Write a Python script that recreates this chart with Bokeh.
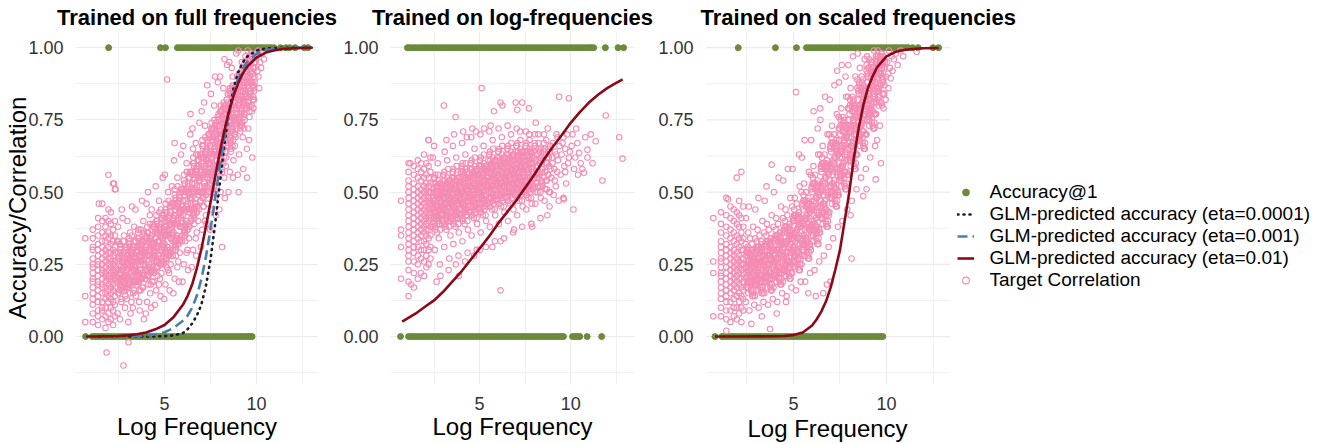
from bokeh.plotting import figure
from bokeh.models import Range1d, FixedTicker, Legend, LegendItem, NumeralTickFormatter, Title
from bokeh.layouts import row
from bokeh.embed import file_html
from bokeh.resources import INLINE

FONT = "Liberation Sans"
PINK = "#F48BB3"
GREEN = "#6B8A3A"
RED = "#8B0A1A"
BLUE = "#4A7FB0"
DOTC = "#1C1C2E"

titles = ["Trained on full frequencies", "Trained on log-frequencies", "Trained on scaled frequencies"]
x_label = "Log Frequency"
y_label = "Accuracy/Correlation"
x_ticks = [5, 10]
x_minor = [2.5, 7.5, 12.5]
y_ticks = [0, 0.25, 0.5, 0.75, 1.0]
y_minor = [-0.125, 0.125, 0.375, 0.625, 0.875]
legend_labels = ["Accuracy@1", "GLM-predicted accuracy (eta=0.0001)", "GLM-predicted accuracy (eta=0.001)",
                 "GLM-predicted accuracy (eta=0.01)", "Target Correlation"]

# ---------------- Accuracy@1 (0/1 outcomes) ----------------
acc_full_one = [1.96, 4.78, 5.05, 5.7, 5.84, 5.99, 6.13, 6.28, 6.44, 6.58, 6.73, 6.89, 7.03, 7.18, 7.34, 7.48,
                7.63, 7.79, 7.93, 8.08, 8.24, 8.38, 8.53, 8.69, 8.83, 8.98, 9.14, 9.28, 9.43, 9.59, 9.73, 9.88,
                10.04, 10.18, 10.33, 10.49, 10.63, 10.78, 10.95, 11.3, 11.6, 11.8, 12.1, 12.6, 12.8]
acc_full_zero = [0.71, 1.07, 1.21, 1.36, 1.5, 1.65, 1.8, 1.95, 2.1, 2.25, 2.4, 2.55, 2.7, 2.85, 3.0, 3.15, 3.3,
                 3.45, 3.6, 3.75, 3.9, 4.05, 4.2, 4.35, 4.5, 4.65, 4.8, 4.95, 5.1, 5.25, 5.4, 5.55, 5.7, 5.85,
                 6.0, 6.15, 6.3, 6.45, 6.6, 6.75, 6.9, 7.05, 7.2, 7.35, 7.5, 7.65, 7.8, 7.95, 8.1, 8.25, 8.4,
                 8.55, 8.7, 8.85, 9.0, 9.15, 9.3, 9.45, 9.58, 9.67, 9.76]
acc_log_one = [1.04, 1.15, 1.3, 1.45, 1.6, 1.75, 1.9, 2.02, 2.16, 2.3, 2.45, 2.6, 2.75, 2.9, 3.05, 3.2, 3.35,
               3.5, 3.65, 3.8, 3.95, 4.1, 4.25, 4.4, 4.55, 4.7, 4.85, 5.0, 5.15, 5.3, 5.45, 5.6, 5.75, 5.9,
               6.05, 6.2, 6.35, 6.5, 6.65, 6.8, 6.95, 7.1, 7.25, 7.4, 7.55, 7.7, 7.85, 8.0, 8.15, 8.3, 8.45,
               8.6, 8.75, 8.9, 9.05, 9.2, 9.35, 9.5, 9.65, 9.8, 9.95, 10.1, 10.25, 10.4, 10.55, 10.7, 10.85,
               11.0, 11.12, 11.26, 11.9, 12.6, 12.9]
acc_log_zero = [0.66, 1.1, 1.24, 1.39, 1.54, 1.69, 1.84, 1.99, 2.14, 2.29, 2.44, 2.59, 2.74, 2.89, 3.04, 3.19,
                3.34, 3.49, 3.64, 3.79, 3.94, 4.09, 4.24, 4.39, 4.54, 4.69, 4.84, 4.99, 5.14, 5.29, 5.44, 5.59,
                5.74, 5.89, 6.04, 6.19, 6.34, 6.49, 6.64, 6.79, 6.94, 7.09, 7.24, 7.39, 7.54, 7.69, 7.84, 7.99,
                8.14, 8.29, 8.44, 8.59, 8.74, 8.89, 9.04, 9.19, 9.34, 9.49, 9.6, 10.1, 10.25, 10.4, 10.5, 10.9,
                11.7]
acc_scaled_one = [2.03, 4.03, 5.16, 5.7, 5.85, 6.0, 6.14, 6.29, 6.44, 6.59, 6.74, 6.88, 7.03, 7.18, 7.33, 7.48,
                  7.62, 7.77, 7.92, 8.07, 8.22, 8.36, 8.51, 8.66, 8.81, 8.96, 9.1, 9.25, 9.4, 9.55, 9.7, 9.84,
                  9.99, 10.14, 10.29, 10.44, 10.58, 10.73, 10.88, 11.02, 11.16, 11.4, 11.7, 12.5, 12.8]
acc_scaled_zero = [0.78, 1.16, 1.3, 1.45, 1.6, 1.75, 1.9, 2.05, 2.2, 2.35, 2.5, 2.65, 2.8, 2.95, 3.1, 3.25,
                   3.4, 3.55, 3.7, 3.85, 4.0, 4.15, 4.3, 4.45, 4.6, 4.75, 4.9, 5.05, 5.2, 5.35, 5.5, 5.65, 5.8,
                   5.95, 6.1, 6.25, 6.4, 6.55, 6.7, 6.85, 7.0, 7.15, 7.3, 7.45, 7.6, 7.75, 7.9, 8.05, 8.2, 8.35,
                   8.5, 8.65, 8.8, 8.95, 9.1, 9.25, 9.4, 9.55, 9.68, 9.8]

# ---------------- GLM-predicted accuracy curves ----------------
glm_full_x = [0.8, 1.5, 2, 2.5, 3, 3.5, 4, 4.5, 5, 5.5, 6, 6.25, 6.5, 6.75, 7, 7.25, 7.5, 7.75, 8, 8.25, 8.5,
              8.75, 9, 9.25, 9.5, 10, 10.5, 11, 11.5, 12, 12.5, 13]
glm_full_eta0001 = [0, 0, 0, 0, 0, 0, 0.0001, 0.0004, 0.0013, 0.004, 0.012, 0.025, 0.045, 0.072, 0.11, 0.175,
                    0.267, 0.389, 0.528, 0.663, 0.775, 0.858, 0.914, 0.949, 0.97, 0.99, 0.997, 0.999, 1.0, 1.0,
                    1.0, 1.0]
glm_full_eta001 = [0, 0, 0, 0.0002, 0.0005, 0.0012, 0.003, 0.008, 0.015, 0.03, 0.055, 0.072, 0.1, 0.14, 0.198,
                   0.276, 0.372, 0.478, 0.587, 0.688, 0.773, 0.84, 0.891, 0.927, 0.951, 0.979, 0.991, 0.996,
                   0.998, 0.999, 1.0, 1.0]
glm_full_eta01 = [0.0003, 0.0006, 0.001, 0.002, 0.004, 0.008, 0.014, 0.025, 0.04, 0.068, 0.11, 0.14, 0.18, 0.235,
                  0.302, 0.38, 0.465, 0.552, 0.636, 0.713, 0.779, 0.833, 0.877, 0.91, 0.935, 0.966, 0.983, 0.991,
                  0.996, 0.998, 0.999, 0.9995]
glm_log_x = [0.75, 1.5, 2, 2.5, 3, 3.5, 4, 4.5, 5, 5.5, 6, 6.5, 7, 7.5, 8, 8.5, 9, 9.5, 10, 10.5, 11, 11.5, 12,
             12.5, 12.85]
glm_log_eta01 = [0.052, 0.08, 0.103, 0.125, 0.155, 0.19, 0.225, 0.265, 0.305, 0.345, 0.39, 0.43, 0.47, 0.515,
                 0.56, 0.61, 0.655, 0.697, 0.74, 0.777, 0.81, 0.837, 0.86, 0.878, 0.89]
glm_scaled_x = [0.78, 2, 3, 4, 4.5, 5, 5.5, 6, 6.25, 6.5, 6.75, 7, 7.25, 7.5, 7.75, 8, 8.25, 8.5, 8.75, 9, 9.25,
                9.5, 10, 10.5, 11, 11.5, 12, 12.8]
glm_scaled_eta01 = [0, 0, 0.0005, 0.001, 0.002, 0.005, 0.014, 0.038, 0.06, 0.087, 0.122, 0.17, 0.232, 0.3, 0.4,
                    0.5, 0.62, 0.72, 0.8, 0.86, 0.9, 0.933, 0.97, 0.986, 0.993, 0.996, 0.998, 0.999]

# ---------------- Target correlation (pink circles) ----------------
full_strip_x = [0.69, 1.10, 1.39, 1.61, 1.79, 1.95, 2.08, 2.20, 2.30]
full_strip_y = [
    [0.34, 0.14, 0.05],
    [0.05, 0.08, 0.11, 0.13, 0.15, 0.17, 0.19, 0.20, 0.22, 0.24, 0.25, 0.27, 0.30, 0.31, 0.34, 0.37],
    [0.04, 0.07, 0.09, 0.12, 0.14, 0.16, 0.18, 0.19, 0.21, 0.23, 0.25, 0.26, 0.28, 0.30, 0.32, 0.35, 0.38, 0.41],
    [0.06, 0.09, 0.10, 0.12, 0.15, 0.17, 0.18, 0.20, 0.22, 0.23, 0.25, 0.27, 0.29, 0.31, 0.33, 0.36, 0.40, 0.46],
    [0.03, 0.07, 0.10, 0.13, 0.15, 0.17, 0.19, 0.21, 0.22, 0.24, 0.26, 0.28, 0.30, 0.33, 0.35, 0.38, 0.41],
    [0.05, 0.08, 0.12, 0.14, 0.16, 0.18, 0.20, 0.21, 0.23, 0.25, 0.27, 0.29, 0.31, 0.34, 0.36, 0.40, 0.44, 0.56],
    [0.06, 0.10, 0.13, 0.15, 0.17, 0.19, 0.20, 0.22, 0.24, 0.26, 0.27, 0.29, 0.32, 0.35, 0.39, 0.43],
    [0.04, 0.09, 0.12, 0.16, 0.18, 0.21, 0.23, 0.25, 0.28, 0.30, 0.33, 0.37, 0.53],
    [0.07, 0.11, 0.14, 0.17, 0.20, 0.22, 0.24, 0.26, 0.29, 0.31, 0.35, 0.40, 0.51],
]
full_cloud = [
    (1.85, -0.055), (2.77, -0.10), (3.04, -0.02), (2.25, 0.53), (2.34, 0.51), (1.43, 0.46),
    (2.45, .08), (2.5, .15), (2.55, .22), (2.6, .3), (2.65, .12), (2.7, .26), (2.75, .19), (2.8, .35), (2.85, .1),
    (2.42, .33), (2.52, .27), (2.62, .2), (2.72, .41), (2.82, .24), (2.88, .17), (2.48, .38), (2.58, .06),
    (2.68, .44), (2.78, .29), (2.9, .21), (2.47, .2), (2.67, .16), (2.87, .31),
    (2.95, .13), (3.0, .25), (3.05, .18), (3.1, .33), (3.15, .08), (3.2, .22), (3.25, .29), (3.3, .15),
    (3.35, .38), (2.98, .4), (3.08, .2), (3.18, .28), (3.28, .1), (3.38, .24), (3.03, .05), (3.13, .36),
    (3.23, .45), (3.33, .31), (3.0, .17), (3.2, .12), (3.4, .19), (3.1, .27), (3.3, .23),
    (3.45, .14), (3.5, .26), (3.55, .2), (3.6, .34), (3.65, .09), (3.7, .23), (3.75, .3), (3.8, .17),
    (3.85, .4), (3.42, .44), (3.52, .31), (3.62, .12), (3.72, .27), (3.82, .22), (3.88, .06), (3.47, .19),
    (3.57, .37), (3.67, .25), (3.77, .47), (3.87, .29), (3.5, .22), (3.7, .16), (3.9, .33), (3.6, .28),
    (3.95, .2), (4.0, .3), (4.05, .12), (4.1, .36), (4.15, .24), (4.2, .42), (4.25, .18), (4.3, .33),
    (4.35, .27), (3.98, .08), (4.08, .26), (4.18, .31), (4.28, .1), (4.38, .39), (4.02, .46), (4.12, .21),
    (4.22, .15), (4.32, .23), (4.4, .29), (4.0, .34), (4.2, .28), (4.4, .19), (4.1, .5), (4.3, .44),
    (4.45, .22), (4.5, .34), (4.55, .16), (4.6, .4), (4.65, .28), (4.7, .47), (4.75, .2), (4.8, .36),
    (4.85, .3), (4.48, .11), (4.58, .26), (4.68, .33), (4.78, .14), (4.88, .42), (4.52, .52), (4.62, .24),
    (4.72, .38), (4.82, .25), (4.9, .32), (4.5, .29), (4.7, .18), (4.9, .55), (4.6, .36), (4.8, .44),
    (4.95, .25), (5.0, .37), (5.05, .18), (5.1, .43), (5.15, .31), (5.2, .5), (5.25, .22), (5.3, .39),
    (5.35, .34), (4.98, .13), (5.08, .28), (5.18, .35), (5.28, .16), (5.38, .46), (5.02, .56), (5.12, .27),
    (5.22, .41), (5.32, .29), (5.4, .36), (5.0, .32), (5.2, .23), (5.4, .52), (5.1, .38), (5.3, .45), (5.14, .89),
    (5.45, .28), (5.5, .41), (5.55, .2), (5.6, .47), (5.65, .35), (5.7, .55), (5.75, .26), (5.8, .43),
    (5.85, .38), (5.48, .15), (5.58, .32), (5.68, .39), (5.78, .19), (5.88, .51), (5.52, .61), (5.62, .3),
    (5.72, .45), (5.82, .33), (5.9, .41), (5.5, .36), (5.7, .24), (5.9, .63), (5.6, .44), (5.8, .49), (5.55, .67),
    (5.95, .33), (6.0, .47), (6.05, .25), (6.1, .53), (6.15, .4), (6.2, .6), (6.25, .3), (6.3, .5),
    (6.35, .44), (5.98, .19), (6.08, .37), (6.18, .45), (6.28, .23), (6.38, .57), (6.02, .66), (6.12, .35),
    (6.22, .51), (6.32, .38), (6.4, .48), (6.0, .42), (6.2, .29), (6.4, .7), (6.1, .49), (6.3, .55), (6.41, .77),
    (6.45, .4), (6.5, .53), (6.55, .3), (6.6, .6), (6.65, .46), (6.7, .67), (6.75, .36), (6.8, .56),
    (6.85, .5), (6.48, .24), (6.58, .43), (6.62, .51), (6.72, .28), (6.82, .63), (6.52, .72), (6.62, .41),
    (6.72, .58), (6.78, .45), (6.9, .54), (6.5, .48), (6.7, .34), (6.9, .74), (6.6, .55), (6.8, .61), (6.55, .65),
    (6.95, .47), (7.0, .6), (7.05, .37), (7.1, .66), (7.15, .53), (7.2, .73), (7.25, .42), (7.3, .62),
    (7.35, .57), (6.98, .31), (7.08, .5), (7.18, .58), (7.28, .39), (7.38, .7), (7.02, .78), (7.12, .45),
    (7.22, .64), (7.32, .52), (7.4, .6), (7.0, .55), (7.2, .4), (7.32, .87), (7.1, .62), (7.3, .68), (7.15, .81),
    (7.45, .54), (7.5, .66), (7.55, .44), (7.6, .72), (7.65, .59), (7.7, .8), (7.75, .48), (7.8, .68),
    (7.85, .63), (7.48, .37), (7.58, .56), (7.68, .64), (7.78, .42), (7.88, .76), (7.52, .84), (7.62, .5),
    (7.72, .7), (7.82, .58), (7.9, .66), (7.5, .6), (7.7, .52), (7.9, .88), (7.6, .69), (7.8, .74), (7.75, .9),
    (7.95, .6), (8.0, .72), (8.05, .5), (8.1, .78), (8.13, .31), (8.15, .65), (8.2, .86), (8.25, .55),
    (8.3, .74), (8.35, .69), (7.98, .44), (8.08, .63), (8.18, .7), (8.28, .48), (8.38, .82), (8.02, .9),
    (8.12, .57), (8.22, .77), (8.32, .64), (8.4, .72), (8.0, .67), (8.2, .6), (8.4, .94), (8.1, .75),
    (8.3, .8), (8.26, .96),
    (8.45, .67), (8.5, .78), (8.55, .57), (8.6, .84), (8.65, .72), (8.7, .9), (8.75, .61), (8.8, .8),
    (8.85, .75), (8.48, .5), (8.58, .69), (8.68, .77), (8.72, .55), (8.88, .87), (8.52, .95), (8.62, .64),
    (8.72, .83), (8.82, .7), (8.9, .79), (8.5, .73), (8.7, .66), (8.9, .98), (8.6, .81), (8.8, .86), (8.65, .93),
    (8.95, .74), (9.0, .85), (9.05, .63), (9.1, .9), (9.15, .79), (9.2, .95), (9.25, .69), (9.3, .86),
    (9.35, .81), (8.98, .56), (9.08, .76), (9.18, .83), (9.28, .58), (9.38, .92), (9.02, .99), (9.12, .72),
    (9.22, .88), (9.32, .77), (9.4, .84), (9.0, .8), (9.2, .73), (9.4, .97), (9.1, .87), (9.3, .94), (9.03, .5),
    (9.45, .8), (9.5, .9), (9.55, .72), (9.49, .55), (9.6, .94), (9.65, .85), (9.7, .98), (9.75, .78),
    (9.8, .91), (9.85, .87), (9.48, .65), (9.58, .83), (9.68, .88), (9.78, .96), (9.9, .93), (9.52, .99),
    (9.62, .76), (9.72, .92), (9.82, .83), (9.95, .95), (9.6, .68), (9.9, .88), (9.77, .62), (9.65, .97),
    (10.0, .97), (10.05, .92), (10.1, .99), (10.2, .95), (10.15, .86), (10.3, .98), (10.1, .9), (10.4, .96),
    (10.25, .93),
]
# dense core of the cloud, as (x*100, y*100) pairs
full_core = [
    241,21, 246,29, 249,15, 253,25, 257,32, 259,18, 263,23, 266,13, 269,28, 272,20, 275,33, 278,24, 281,16,
    284,27, 286,22, 289,30, 244,26, 255,19, 261,31, 268,17, 274,26, 280,21, 287,14, 251,33,
    291,23, 294,31, 297,17, 301,27, 304,20, 307,34, 310,25, 313,15, 316,29, 319,22, 322,35, 325,19, 328,26,
    331,31, 334,16, 337,24, 339,28, 296,21, 305,32, 312,18, 318,26, 324,30, 330,21, 336,33,
    341,25, 344,33, 347,18, 350,29, 353,21, 356,36, 359,26, 362,16, 365,31, 368,23, 371,37, 374,20, 377,28,
    380,33, 383,17, 386,26, 389,30, 346,23, 355,34, 362,19, 368,28, 374,32, 380,22, 387,36,
    391,27, 394,35, 397,20, 400,31, 403,23, 406,38, 409,28, 412,18, 415,33, 418,25, 421,39, 424,22, 427,30,
    430,35, 433,19, 436,28, 439,32, 396,25, 405,36, 412,21, 418,30, 424,34, 430,24, 437,38,
    441,30, 444,38, 447,23, 450,34, 453,26, 456,42, 459,31, 462,21, 465,36, 468,28, 471,43, 474,25, 477,33,
    480,39, 483,22, 486,31, 489,35, 446,28, 455,40, 462,24, 468,33, 474,37, 480,27, 487,41,
    491,33, 494,42, 497,26, 500,38, 503,29, 506,46, 509,35, 512,24, 515,40, 518,31, 521,47, 524,28, 527,37,
    530,43, 533,25, 536,34, 539,39, 496,31, 505,44, 512,27, 518,36, 524,41, 530,30, 537,45,
    541,37, 544,46, 547,30, 550,42, 553,33, 556,51, 559,39, 562,28, 565,45, 568,35, 571,52, 574,32, 577,41,
    580,48, 583,29, 586,38, 589,44, 546,35, 555,49, 562,31, 568,40, 574,46, 580,34, 587,50,
    591,42, 594,51, 597,35, 600,47, 603,38, 606,56, 609,44, 612,33, 615,50, 618,40, 621,57, 624,37, 627,46,
    630,53, 633,34, 636,43, 639,49, 596,40, 605,54, 612,36, 618,45, 624,51, 630,39, 637,55,
    641,48, 644,57, 647,41, 650,53, 653,44, 656,62, 659,50, 662,39, 665,56, 668,46, 671,63, 674,43, 677,52,
    680,59, 683,40, 686,49, 689,55, 646,46, 655,60, 662,42, 668,51, 674,57, 680,45, 687,61,
    691,54, 694,63, 697,47, 700,59, 703,50, 706,68, 709,56, 712,45, 715,62, 718,52, 721,69, 724,49, 727,58,
    730,65, 733,46, 736,55, 739,61, 696,52, 705,66, 712,48, 718,57, 724,63, 730,51, 737,67,
    741,60, 744,69, 747,53, 750,65, 753,56, 756,74, 759,62, 762,51, 765,68, 768,58, 771,75, 774,55, 777,64,
    780,71, 783,52, 786,61, 789,67, 746,58, 755,72, 762,54, 768,63, 774,69, 780,57, 787,73,
    791,67, 794,75, 797,60, 800,71, 803,63, 806,80, 809,69, 812,58, 815,74, 818,65, 821,81, 824,62, 827,70,
    830,77, 833,59, 836,68, 839,73, 796,65, 805,78, 812,61, 818,70, 824,75, 830,64, 837,79,
    841,73, 844,81, 847,66, 850,77, 853,69, 856,86, 859,75, 862,65, 865,80, 868,71, 871,87, 874,68, 877,76,
    880,83, 883,66, 886,74, 889,79, 846,71, 855,84, 862,67, 868,76, 874,81, 880,70, 887,85,
    891,79, 894,86, 897,72, 900,83, 903,75, 906,91, 909,81, 912,71, 915,85, 918,77, 921,92, 924,74, 927,82,
    930,88, 933,72, 936,80, 939,85, 896,77, 905,89, 912,73, 918,82, 924,87, 930,76, 937,90,
    941,85, 944,91, 947,79, 950,88, 953,81, 956,96, 959,86, 962,78, 965,90, 968,83, 971,97, 974,80, 977,87,
    980,93, 983,79, 986,85, 989,90, 946,83, 955,94, 962,80, 968,88, 974,92, 980,82, 987,95,
    243,19, 248,27, 252,22, 256,16, 260,29, 264,24, 267,19, 271,27, 276,17, 279,29, 283,21, 288,25, 245,23,
    254,28, 262,18, 273,23, 281,26, 286,18,
    293,20, 298,28, 302,24, 306,18, 310,31, 314,26, 317,21, 321,29, 326,18, 329,30, 333,23, 338,27, 295,25,
    304,29, 312,19, 323,24, 331,27, 336,19,
    343,21, 348,30, 352,26, 356,19, 360,33, 364,28, 367,22, 371,31, 376,20, 379,32, 383,25, 388,29, 345,27,
    354,31, 362,21, 373,26, 381,29, 386,21,
    393,23, 398,33, 402,28, 406,21, 410,36, 414,30, 417,24, 421,34, 426,22, 429,35, 433,27, 438,31, 395,29,
    404,34, 412,23, 423,28, 431,32, 436,23,
    443,26, 448,36, 452,31, 456,24, 460,39, 464,33, 467,27, 471,37, 476,25, 479,38, 483,30, 488,34, 445,32,
    454,37, 462,26, 473,31, 481,35, 486,26,
    493,29, 498,40, 502,35, 506,27, 510,43, 514,37, 517,30, 521,41, 526,28, 529,42, 533,34, 538,38, 495,36,
    504,41, 512,29, 523,35, 531,39, 536,29,
    543,33, 548,45, 552,39, 556,31, 560,48, 564,42, 567,34, 571,46, 576,32, 579,47, 583,38, 588,43, 545,40,
    554,46, 562,33, 573,39, 581,44, 586,33,
    593,38, 598,50, 602,44, 606,36, 610,53, 614,47, 617,39, 621,51, 626,37, 629,52, 633,43, 638,48, 595,45,
    604,51, 612,38, 623,44, 631,49, 636,38,
    643,44, 648,56, 652,50, 656,42, 660,59, 664,53, 667,45, 671,57, 676,43, 679,58, 683,49, 688,54, 645,51,
    654,57, 662,44, 673,50, 681,55, 686,44,
    693,50, 698,62, 702,56, 706,48, 710,65, 714,59, 717,51, 721,63, 726,49, 729,64, 733,55, 738,60, 695,57,
    704,63, 712,50, 723,56, 731,61, 736,50,
    742,56, 746,66, 750,60, 754,71, 758,54, 762,63, 766,69, 770,58, 774,73, 778,61, 782,67, 786,55, 744,70,
    752,64, 760,57, 768,72, 776,65, 784,59, 788,70, 756,62,
    792,63, 796,73, 800,67, 804,78, 808,61, 812,70, 816,76, 820,65, 824,80, 828,68, 832,74, 836,62, 794,77,
    802,71, 810,64, 818,79, 826,72, 834,66, 838,77, 806,69,
    842,70, 846,80, 850,74, 854,85, 858,68, 862,77, 866,83, 870,72, 874,87, 878,75, 882,81, 886,69, 844,84,
    852,78, 860,71, 868,86, 876,79, 884,73, 888,84, 856,76,
    892,76, 896,86, 900,80, 904,91, 908,74, 912,83, 916,89, 920,78, 924,93, 928,81, 932,87, 936,75, 894,90,
    902,84, 910,77, 918,92, 926,85, 934,79, 938,90, 906,82,
    942,83, 946,92, 950,87, 954,96, 958,81, 962,89, 966,94, 970,85, 974,98, 978,88, 982,93, 986,82, 944,95,
    952,90, 960,84, 968,97, 976,91, 984,86, 988,95, 956,88,
]

log_strip_x = [0.69, 1.10, 1.39, 1.61, 1.79, 1.95, 2.08, 2.20, 2.30]
log_strip_y = [
    [0.47, 0.37, 0.35, 0.31, 0.20],
    [0.14, 0.19, 0.23, 0.26, 0.28, 0.30, 0.32, 0.34, 0.36, 0.38, 0.40, 0.42, 0.44, 0.46, 0.48, 0.50, 0.52, 0.54, 0.57, 0.60],
    [0.17, 0.22, 0.26, 0.29, 0.31, 0.33, 0.35, 0.37, 0.39, 0.41, 0.43, 0.45, 0.47, 0.49, 0.51, 0.53, 0.56, 0.59],
    [0.20, 0.25, 0.28, 0.31, 0.34, 0.36, 0.38, 0.40, 0.42, 0.44, 0.46, 0.48, 0.50, 0.52, 0.55, 0.58, 0.61],
    [0.22, 0.27, 0.30, 0.33, 0.35, 0.37, 0.39, 0.41, 0.43, 0.45, 0.47, 0.49, 0.51, 0.54, 0.57, 0.60],
    [0.21, 0.26, 0.30, 0.33, 0.36, 0.38, 0.40, 0.42, 0.44, 0.46, 0.48, 0.50, 0.52, 0.55, 0.58, 0.63],
    [0.24, 0.28, 0.32, 0.35, 0.37, 0.39, 0.41, 0.43, 0.45, 0.47, 0.49, 0.51, 0.53, 0.56, 0.60],
    [0.25, 0.30, 0.34, 0.37, 0.40, 0.42, 0.44, 0.46, 0.48, 0.50, 0.52, 0.55, 0.59, 0.68],
    [0.27, 0.31, 0.35, 0.38, 0.41, 0.43, 0.45, 0.47, 0.50, 0.53, 0.57, 0.62],
]
log_cloud = [
    (1.2, .6), (1.25, .18), (2.2, .68), (2.64, .19), (3.86, .21),
    (2.42, .38), (2.46, .47), (2.5, .55), (2.54, .3), (2.58, .43), (2.62, .5), (2.66, .36), (2.7, .6),
    (2.74, .41), (2.78, .48), (2.82, .25), (2.86, .53), (2.9, .44), (2.44, .62), (2.52, .4), (2.6, .46),
    (2.68, .52), (2.76, .34), (2.84, .45), (2.48, .51), (2.56, .37), (2.64, .42), (2.72, .56), (2.8, .39),
    (2.88, .49), (2.5, .66), (2.85, .21),
    (2.94, .39), (2.98, .48), (3.02, .56), (3.06, .31), (3.1, .44), (3.14, .51), (3.18, .37), (3.22, .61),
    (3.26, .42), (3.3, .49), (3.34, .27), (3.38, .54), (3.0, .45), (3.08, .64), (3.16, .41), (3.24, .47),
    (3.32, .53), (3.4, .35), (3.04, .5), (3.12, .38), (3.2, .43), (3.28, .58), (3.36, .4), (2.96, .52),
    (3.04, .8), (3.18, .68), (3.3, .23), (3.12, .46),
    (3.44, .4), (3.48, .49), (3.52, .57), (3.56, .32), (3.6, .45), (3.64, .52), (3.68, .38), (3.72, .62),
    (3.76, .43), (3.8, .5), (3.84, .28), (3.88, .55), (3.46, .46), (3.54, .66), (3.62, .42), (3.7, .48),
    (3.78, .54), (3.86, .36), (3.5, .51), (3.58, .39), (3.66, .44), (3.74, .59), (3.82, .41), (3.9, .47),
    (3.68, .76), (3.6, .7), (3.7, .25),
    (3.94, .41), (3.98, .5), (4.02, .58), (4.06, .33), (4.1, .46), (4.14, .53), (4.18, .39), (4.22, .63),
    (4.26, .44), (4.3, .51), (4.34, .29), (4.38, .56), (3.96, .47), (4.04, .67), (4.12, .43), (4.2, .49),
    (4.28, .55), (4.36, .37), (4.0, .52), (4.08, .4), (4.16, .45), (4.24, .6), (4.32, .42), (4.4, .48),
    (4.1, .71), (4.3, .69), (4.2, .26),
    (4.44, .43), (4.48, .52), (4.52, .6), (4.56, .35), (4.6, .48), (4.64, .55), (4.68, .41), (4.72, .65),
    (4.76, .46), (4.8, .53), (4.84, .3), (4.88, .58), (4.46, .49), (4.54, .69), (4.62, .45), (4.7, .51),
    (4.78, .57), (4.86, .39), (4.5, .54), (4.58, .42), (4.66, .47), (4.74, .62), (4.82, .44), (4.9, .5),
    (4.6, .72), (4.8, .71), (4.7, .28),
    (4.94, .44), (4.98, .53), (5.02, .61), (5.06, .36), (5.1, .49), (5.14, .56), (5.18, .42), (5.22, .66),
    (5.26, .47), (5.3, .54), (5.34, .31), (5.38, .59), (4.96, .5), (5.04, .7), (5.12, .46), (5.2, .52),
    (5.28, .58), (5.36, .4), (5.0, .55), (5.08, .43), (5.16, .48), (5.24, .63), (5.32, .45), (5.4, .51),
    (5.11, .86), (5.25, .72), (5.0, .3),
    (5.44, .46), (5.48, .55), (5.52, .63), (5.56, .38), (5.6, .51), (5.64, .58), (5.68, .44), (5.72, .68),
    (5.76, .49), (5.8, .56), (5.84, .33), (5.88, .61), (5.46, .52), (5.54, .71), (5.62, .48), (5.7, .54),
    (5.78, .6), (5.86, .42), (5.5, .57), (5.58, .45), (5.66, .5), (5.74, .65), (5.82, .47), (5.9, .53),
    (5.79, .78), (5.6, .73), (5.7, .31),
    (5.94, .47), (5.98, .56), (6.02, .64), (6.06, .39), (6.1, .52), (6.14, .59), (6.18, .45), (6.22, .69),
    (6.26, .5), (6.3, .57), (6.34, .34), (6.38, .62), (5.96, .53), (6.04, .72), (6.12, .49), (6.2, .55),
    (6.28, .61), (6.36, .43), (6.0, .58), (6.08, .46), (6.16, .51), (6.24, .66), (6.32, .48), (6.4, .54),
    (6.15, .81), (6.25, .8), (6.15, .16), (6.15, .33),
    (6.44, .48), (6.48, .57), (6.52, .65), (6.56, .4), (6.6, .53), (6.64, .6), (6.68, .46), (6.72, .7),
    (6.76, .51), (6.8, .58), (6.84, .36), (6.88, .63), (6.46, .54), (6.54, .73), (6.62, .5), (6.7, .56),
    (6.78, .62), (6.86, .44), (6.5, .59), (6.58, .47), (6.66, .52), (6.74, .67), (6.82, .49), (6.9, .55),
    (6.89, .37),
    (6.94, .49), (6.98, .58), (7.02, .66), (7.06, .42), (7.1, .54), (7.14, .61), (7.18, .47), (7.22, .71),
    (7.26, .52), (7.3, .59), (7.34, .38), (7.38, .64), (6.96, .55), (7.04, .72), (7.12, .51), (7.2, .57),
    (7.28, .63), (7.36, .45), (7.0, .6), (7.08, .48), (7.16, .53), (7.24, .68), (7.32, .5), (7.4, .56),
    (6.98, .81), (7.07, .785), (7.34, .81),
    (7.44, .5), (7.48, .59), (7.52, .66), (7.56, .44), (7.6, .55), (7.64, .62), (7.68, .48), (7.72, .7),
    (7.76, .53), (7.8, .6), (7.84, .39), (7.88, .65), (7.46, .56), (7.54, .71), (7.62, .52), (7.7, .58),
    (7.78, .64), (7.86, .46), (7.5, .61), (7.58, .49), (7.66, .54), (7.74, .68), (7.82, .51), (7.9, .57),
    (7.71, .79), (7.89, .38),
    (7.94, .52), (7.98, .6), (8.02, .67), (8.06, .46), (8.1, .56), (8.14, .63), (8.18, .5), (8.22, .7),
    (8.26, .55), (8.3, .61), (8.34, .41), (8.38, .65), (7.96, .57), (8.04, .7), (8.12, .53), (8.2, .59),
    (8.28, .64), (8.36, .48), (8.0, .62), (8.08, .74), (8.16, .55), (8.24, .67), (8.32, .52), (8.4, .58),
    (8.44, .53), (8.48, .61), (8.52, .67), (8.56, .47), (8.6, .57), (8.64, .63), (8.68, .51), (8.72, .42),
    (8.76, .56), (8.8, .62), (8.84, .45), (8.88, .66), (8.46, .58), (8.54, .7), (8.62, .54), (8.7, .6),
    (8.78, .65), (8.86, .5), (8.5, .64), (8.66, .68), (8.74, .72), (8.82, .59),
    (8.94, .55), (8.98, .62), (9.02, .67), (9.06, .49), (9.1, .58), (9.14, .64), (9.18, .52), (9.22, .7),
    (9.26, .57), (9.3, .61), (9.34, .47), (9.38, .66), (9.0, .6), (9.12, .54), (9.2, .63), (9.28, .69),
    (9.36, .83),
    (9.45, .56), (9.5, .63), (9.55, .67), (9.6, .48), (9.63, .475), (9.65, .59), (9.7, .65), (9.75, .53),
    (9.8, .7), (9.85, .6), (9.9, .825), (9.95, .64), (9.6, .69), (9.7, .57), (9.9, .62),
    (10.18, .58), (10.73, .567), (10.46, .636), (10.92, .647), (10.37, .67), (10.92, .62), (10.64, .58),
    (10.15, .44), (10.05, .66), (10.25, .62), (10.3, .72), (10.55, .6), (10.8, .69), (10.1, .7), (10.4, .56),
    (11.37, .676), (11.74, .54), (11.92, .765), (12.66, .69), (12.84, .616), (11.2, .6), (11.1, .7),
]
log_core = [
    241,46, 244,39, 247,53, 250,43, 253,55, 256,38, 259,49, 262,41, 265,52, 268,45, 271,40, 274,54, 277,44,
    280,48, 283,37, 286,51, 289,42, 248,47, 257,56, 263,45, 270,50, 276,39, 282,53, 288,46,
    291,47, 294,40, 297,54, 300,44, 303,56, 306,39, 309,50, 312,42, 315,53, 318,46, 321,41, 324,55, 327,45,
    330,49, 333,38, 336,52, 339,43, 298,48, 307,57, 313,46, 320,51, 326,40, 332,54, 338,47,
    341,48, 344,41, 347,55, 350,45, 353,57, 356,40, 359,51, 362,43, 365,54, 368,47, 371,42, 374,56, 377,46,
    380,50, 383,39, 386,53, 389,44, 348,49, 357,58, 363,47, 370,52, 376,41, 382,55, 388,48,
    391,50, 394,42, 397,57, 400,46, 403,59, 406,41, 409,53, 412,44, 415,56, 418,48, 421,43, 424,58, 427,47,
    430,52, 433,40, 436,55, 439,45, 398,51, 407,60, 413,49, 420,54, 426,42, 432,57, 438,50,
    441,51, 444,43, 447,58, 450,47, 453,60, 456,42, 459,54, 462,45, 465,57, 468,49, 471,44, 474,59, 477,48,
    480,53, 483,41, 486,56, 489,46, 448,52, 457,61, 463,50, 470,55, 476,43, 482,58, 488,51,
    491,52, 494,44, 497,59, 500,48, 503,61, 506,43, 509,55, 512,46, 515,58, 518,50, 521,45, 524,60, 527,49,
    530,54, 533,42, 536,57, 539,47, 498,53, 507,62, 513,51, 520,56, 526,44, 532,59, 538,52,
    541,54, 544,46, 547,61, 550,50, 553,63, 556,45, 559,57, 562,48, 565,60, 568,52, 571,47, 574,62, 577,51,
    580,56, 583,44, 586,59, 589,49, 548,55, 557,64, 563,53, 570,58, 576,46, 582,61, 588,54,
    591,55, 594,47, 597,62, 600,51, 603,64, 606,46, 609,58, 612,49, 615,61, 618,53, 621,48, 624,63, 627,52,
    630,57, 633,45, 636,60, 639,50, 598,56, 607,65, 613,54, 620,59, 626,47, 632,62, 638,55,
    641,56, 644,48, 647,63, 650,52, 653,65, 656,47, 659,59, 662,50, 665,62, 668,54, 671,49, 674,64, 677,53,
    680,58, 683,46, 686,61, 689,51, 648,57, 657,66, 663,55, 670,60, 676,48, 682,63, 688,56,
    691,57, 694,49, 697,64, 700,53, 703,66, 706,48, 709,60, 712,51, 715,63, 718,55, 721,50, 724,65, 727,54,
    730,59, 733,47, 736,62, 739,52, 698,58, 707,67, 713,56, 720,61, 726,49, 732,64, 738,57,
    741,58, 744,50, 747,64, 750,54, 753,66, 756,49, 759,61, 762,52, 765,63, 768,56, 771,51, 774,65, 777,55,
    780,60, 783,48, 786,62, 789,53, 748,59, 757,67, 763,57, 770,61, 776,50, 782,64, 788,58,
    791,58, 794,51, 797,64, 800,55, 803,66, 806,50, 809,61, 812,53, 815,63, 818,57, 821,52, 824,65, 827,56,
    830,60, 833,50, 836,62, 839,54,
    841,57, 845,52, 849,63, 853,55, 857,65, 861,51, 865,60, 869,54, 873,62, 877,56, 881,50, 885,64, 889,58,
    243,44, 247,50, 251,41, 255,47, 259,53, 263,43, 267,49, 271,45, 275,52, 279,41, 283,47, 287,50, 245,48,
    253,45, 261,51, 269,42, 277,48, 285,44,
    293,45, 297,51, 301,42, 305,48, 309,54, 313,44, 317,50, 321,46, 325,53, 329,42, 333,48, 337,51, 295,49,
    303,46, 311,52, 319,43, 327,49, 335,45,
    343,46, 347,52, 351,43, 355,49, 359,55, 363,45, 367,51, 371,47, 375,54, 379,43, 383,49, 387,52, 345,50,
    353,47, 361,53, 369,44, 377,50, 385,46,
    393,47, 397,54, 401,44, 405,50, 409,57, 413,46, 417,52, 421,48, 425,55, 429,44, 433,50, 437,53, 395,51,
    403,48, 411,55, 419,45, 427,51, 435,47,
    443,48, 447,55, 451,45, 455,51, 459,58, 463,47, 467,53, 471,49, 475,56, 479,45, 483,51, 487,54, 445,52,
    453,49, 461,56, 469,46, 477,52, 485,48,
    493,49, 497,56, 501,46, 505,52, 509,59, 513,48, 517,54, 521,50, 525,57, 529,46, 533,52, 537,55, 495,53,
    503,50, 511,57, 519,47, 527,53, 535,49,
    543,51, 547,58, 551,48, 555,54, 559,61, 563,50, 567,56, 571,52, 575,59, 579,48, 583,54, 587,57, 545,55,
    553,52, 561,59, 569,49, 577,55, 585,51,
    593,52, 597,59, 601,49, 605,55, 609,62, 613,51, 617,57, 621,53, 625,60, 629,49, 633,55, 637,58, 595,56,
    603,53, 611,60, 619,50, 627,56, 635,52,
    643,53, 647,60, 651,50, 655,56, 659,63, 663,52, 667,58, 671,54, 675,61, 679,50, 683,56, 687,59, 645,57,
    653,54, 661,61, 669,51, 677,57, 685,53,
    693,54, 697,61, 701,51, 705,57, 709,64, 713,53, 717,59, 721,55, 725,62, 729,51, 733,57, 737,60, 695,58,
    703,55, 711,62, 719,52, 727,58, 735,54,
    743,55, 747,61, 751,52, 755,58, 759,64, 763,54, 767,60, 771,56, 775,62, 779,52, 783,58, 787,60,
]

scaled_strip_x = [0.69, 1.10, 1.39, 1.61, 1.79, 1.95, 2.08, 2.20, 2.30]
scaled_strip_y = [
    [0.41, 0.26, 0.22, 0.07],
    [0.07, 0.10, 0.13, 0.15, 0.17, 0.19, 0.21, 0.22, 0.24, 0.26, 0.27, 0.29, 0.31, 0.33, 0.36, 0.39, 0.43],
    [0.02, 0.06, 0.09, 0.12, 0.14, 0.16, 0.18, 0.20, 0.22, 0.24, 0.26, 0.28, 0.30, 0.32, 0.35, 0.38, 0.42, 0.48],
    [0.05, 0.09, 0.12, 0.15, 0.17, 0.19, 0.21, 0.23, 0.25, 0.27, 0.29, 0.31, 0.34, 0.37, 0.41, 0.45],
    [0.07, 0.10, 0.13, 0.16, 0.18, 0.20, 0.22, 0.24, 0.26, 0.28, 0.30, 0.33, 0.36, 0.40, 0.44],
    [0.06, 0.10, 0.14, 0.17, 0.19, 0.21, 0.23, 0.25, 0.27, 0.29, 0.32, 0.35, 0.39, 0.43, 0.55],
    [0.08, 0.12, 0.15, 0.18, 0.20, 0.22, 0.24, 0.26, 0.28, 0.31, 0.34, 0.38, 0.42, 0.47],
    [0.05, 0.10, 0.14, 0.17, 0.20, 0.23, 0.25, 0.27, 0.30, 0.33, 0.36, 0.41, 0.57],
    [0.09, 0.13, 0.16, 0.19, 0.22, 0.25, 0.27, 0.30, 0.34, 0.38, 0.45],
]
scaled_cloud = [
    (1.48, .475),
    (2.43, .12), (2.47, .22), (2.51, .3), (2.55, .17), (2.59, .26), (2.63, .09), (2.67, .34), (2.71, .2),
    (2.75, .28), (2.79, .14), (2.83, .38), (2.87, .24), (2.45, .41), (2.53, .19), (2.61, .23), (2.69, .27),
    (2.77, .32), (2.85, .16), (2.49, .25), (2.57, .36), (2.65, .21), (2.73, .18), (2.81, .29), (2.89, .11),
    (2.74, .044), (2.6, .45), (2.84, .21),
    (2.93, .14), (2.97, .23), (3.01, .31), (3.05, .18), (3.09, .27), (3.13, .1), (3.17, .35), (3.21, .21),
    (3.25, .29), (3.29, .15), (3.33, .4), (3.37, .25), (2.95, .44), (3.03, .2), (3.11, .24), (3.19, .28),
    (3.27, .33), (3.35, .17), (2.99, .26), (3.07, .37), (3.15, .22), (3.23, .19), (3.31, .3), (3.39, .12),
    (3.12, .48), (3.3, .07),
    (3.43, .15), (3.47, .24), (3.51, .32), (3.55, .19), (3.59, .28), (3.63, .11), (3.67, .37), (3.71, .22),
    (3.75, .3), (3.79, .16), (3.83, .42), (3.87, .26), (3.45, .47), (3.53, .21), (3.61, .25), (3.69, .29),
    (3.77, .34), (3.85, .18), (3.49, .27), (3.57, .39), (3.65, .23), (3.73, .2), (3.81, .31), (3.89, .13),
    (3.74, .026), (3.83, .595), (3.55, .52),
    (3.93, .17), (3.97, .26), (4.01, .34), (4.05, .21), (4.09, .3), (4.13, .12), (4.17, .39), (4.21, .24),
    (4.25, .32), (4.29, .18), (4.33, .45), (4.37, .28), (3.95, .5), (4.03, .23), (4.11, .27), (4.19, .31),
    (4.27, .36), (4.35, .2), (3.99, .29), (4.07, .41), (4.15, .25), (4.23, .22), (4.31, .33), (4.39, .15),
    (4.2, .55), (4.1, .08),
    (4.43, .19), (4.47, .28), (4.51, .36), (4.55, .23), (4.59, .32), (4.63, .14), (4.67, .42), (4.71, .26),
    (4.75, .34), (4.79, .2), (4.83, .48), (4.87, .3), (4.45, .54), (4.53, .25), (4.61, .29), (4.69, .33),
    (4.77, .38), (4.85, .22), (4.49, .31), (4.57, .44), (4.65, .27), (4.73, .24), (4.81, .35), (4.89, .17),
    (4.7, .58), (4.6, .12),
    (4.93, .22), (4.97, .31), (5.01, .4), (5.05, .26), (5.09, .36), (5.13, .16), (5.17, .46), (5.21, .29),
    (5.25, .38), (5.29, .23), (5.33, .52), (5.37, .34), (4.95, .58), (5.03, .28), (5.11, .33), (5.19, .37),
    (5.27, .42), (5.35, .25), (4.99, .35), (5.07, .48), (5.15, .3), (5.23, .27), (5.31, .39), (5.39, .19),
    (5.14, .846), (5.3, .63),
    (5.43, .25), (5.47, .35), (5.51, .44), (5.55, .3), (5.59, .4), (5.63, .19), (5.67, .5), (5.71, .33),
    (5.75, .42), (5.79, .27), (5.83, .57), (5.87, .38), (5.45, .62), (5.53, .32), (5.61, .37), (5.69, .41),
    (5.77, .46), (5.85, .29), (5.49, .39), (5.57, .53), (5.65, .34), (5.73, .31), (5.81, .44), (5.89, .22),
    (5.6, .68), (5.8, .15),
    (5.93, .3), (5.97, .4), (6.01, .5), (6.05, .35), (6.09, .45), (6.13, .23), (6.17, .56), (6.21, .38),
    (6.25, .48), (6.29, .32), (6.33, .63), (6.37, .43), (5.95, .68), (6.03, .37), (6.11, .42), (6.19, .46),
    (6.27, .52), (6.35, .34), (5.99, .44), (6.07, .59), (6.15, .39), (6.23, .36), (6.31, .5), (6.39, .26),
    (6.08, .78), (6.2, .14), (6.3, .72),
    (6.43, .36), (6.47, .47), (6.51, .57), (6.55, .41), (6.59, .52), (6.63, .28), (6.67, .63), (6.71, .44),
    (6.75, .55), (6.79, .38), (6.83, .7), (6.87, .5), (6.45, .75), (6.53, .43), (6.61, .49), (6.69, .53),
    (6.77, .6), (6.85, .4), (6.49, .51), (6.57, .66), (6.65, .46), (6.73, .42), (6.81, .58), (6.89, .31),
    (6.44, .79), (6.6, .15), (6.8, .18), (6.7, .83),
    (6.93, .43), (6.97, .54), (7.01, .64), (7.05, .48), (7.09, .59), (7.13, .34), (7.17, .7), (7.21, .51),
    (7.25, .62), (7.29, .45), (7.33, .77), (7.37, .57), (6.95, .82), (7.03, .5), (7.11, .56), (7.19, .6),
    (7.27, .67), (7.35, .47), (6.99, .58), (7.07, .73), (7.15, .53), (7.23, .49), (7.31, .65), (7.39, .38),
    (7.35, .92), (6.99, .19), (7.2, .87),
    (7.43, .49), (7.47, .6), (7.51, .7), (7.55, .54), (7.59, .65), (7.63, .4), (7.67, .76), (7.71, .57),
    (7.75, .68), (7.79, .51), (7.83, .83), (7.87, .63), (7.45, .88), (7.53, .56), (7.61, .62), (7.69, .66),
    (7.77, .73), (7.85, .53), (7.49, .64), (7.57, .79), (7.65, .59), (7.73, .55), (7.81, .71), (7.89, .44),
    (7.6, .94), (7.8, .9),
    (7.93, .56), (7.97, .67), (8.01, .77), (8.05, .61), (8.09, .72), (8.13, .47), (8.17, .83), (8.21, .64),
    (8.25, .75), (8.29, .58), (8.33, .9), (8.37, .7), (7.95, .94), (8.03, .63), (8.11, .69), (8.19, .73),
    (8.27, .8), (8.35, .6), (7.99, .71), (8.07, .86), (8.15, .66), (8.23, .62), (8.31, .78), (8.39, .51),
    (8.12, .27), (8.07, .42), (8.2, .97),
    (8.43, .63), (8.47, .74), (8.51, .84), (8.55, .68), (8.59, .79), (8.63, .55), (8.67, .9), (8.71, .71),
    (8.75, .82), (8.79, .65), (8.83, .96), (8.87, .77), (8.45, .98), (8.53, .7), (8.61, .76), (8.69, .8),
    (8.77, .87), (8.85, .67), (8.49, .78), (8.57, .93), (8.65, .73), (8.73, .69), (8.81, .85), (8.89, .58),
    (8.75, .486), (8.93, .51),
    (8.93, .7), (8.97, .8), (9.01, .9), (9.05, .75), (9.09, .86), (9.13, .62), (9.17, .95), (9.21, .78),
    (9.25, .88), (9.29, .72), (9.33, .99), (9.37, .83), (8.95, .97), (9.03, .77), (9.11, .82), (9.19, .87),
    (9.27, .93), (9.35, .74), (8.99, .84), (9.07, .96), (9.15, .79), (9.23, .76), (9.31, .91), (9.39, .66),
    (9.42, .544), (9.44, .77), (9.5, .86), (9.56, .94), (9.62, .81), (9.68, .91), (9.74, .98), (9.8, .88),
    (9.86, .84), (9.92, .95), (9.98, .9), (9.47, .92), (9.53, .99), (9.59, .85), (9.65, .73), (9.71, .95),
    (9.77, .89), (9.83, .97), (9.89, .87), (9.95, .82), (9.5, .68), (9.7, .6),
    (10.03, .95), (10.08, .91), (10.13, .99), (10.18, .93), (10.23, .894), (10.28, .97), (10.33, .92),
    (10.4, .96), (10.5, .98), (10.6, .94), (10.75, .99), (10.1, .86), (11.62, .986), (10.9, .97),
]
scaled_core = [
    242,24, 245,17, 248,29, 251,21, 254,31, 257,15, 260,26, 263,19, 266,28, 269,23, 272,16, 275,30, 278,20,
    281,25, 284,14, 287,27, 243,32, 252,18, 258,22, 264,30, 270,25, 276,15, 282,29, 288,19,
    292,25, 295,18, 298,30, 301,22, 304,33, 307,16, 310,27, 313,20, 316,29, 319,24, 322,17, 325,31, 328,21,
    331,26, 334,15, 337,28, 293,34, 302,19, 308,23, 314,31, 320,26, 326,16, 332,30, 338,20,
    342,26, 345,19, 348,32, 351,23, 354,35, 357,17, 360,28, 363,21, 366,31, 369,25, 372,18, 375,33, 378,22,
    381,27, 384,16, 387,30, 343,36, 352,20, 358,24, 364,33, 370,28, 376,17, 382,32, 388,21,
    392,28, 395,21, 398,34, 401,25, 404,37, 407,19, 410,30, 413,23, 416,33, 419,27, 422,20, 425,35, 428,24,
    431,29, 434,18, 437,32, 393,38, 402,22, 408,26, 414,35, 420,30, 426,19, 432,34, 438,23,
    442,30, 445,23, 448,37, 451,27, 454,40, 457,21, 460,33, 463,25, 466,36, 469,29, 472,22, 475,38, 478,26,
    481,32, 484,20, 487,35, 443,41, 452,24, 458,28, 464,38, 470,33, 476,21, 482,37, 488,25,
    492,34, 495,26, 498,41, 501,30, 504,44, 507,24, 510,36, 513,28, 516,40, 519,32, 522,25, 525,42, 528,29,
    531,35, 534,23, 537,38, 493,45, 502,27, 508,31, 514,42, 520,37, 526,24, 532,41, 538,28,
    542,38, 545,30, 548,46, 551,34, 554,49, 557,28, 560,41, 563,32, 566,45, 569,36, 572,29, 575,47, 578,33,
    581,39, 584,27, 587,43, 543,50, 552,31, 558,35, 564,47, 570,42, 576,28, 582,46, 588,32,
    592,44, 595,35, 598,52, 601,39, 604,55, 607,33, 610,47, 613,37, 616,51, 619,41, 622,34, 625,53, 628,38,
    631,45, 634,32, 637,49, 593,56, 602,36, 608,40, 614,53, 620,48, 626,33, 632,52, 638,37,
    642,50, 645,41, 648,59, 651,45, 654,62, 657,39, 660,53, 663,43, 666,58, 669,47, 672,40, 675,60, 678,44,
    681,51, 684,38, 687,56, 643,63, 652,42, 658,46, 664,60, 670,55, 676,39, 682,59, 688,43,
    692,57, 695,48, 698,66, 701,52, 704,69, 707,46, 710,60, 713,50, 716,65, 719,54, 722,47, 725,67, 728,51,
    731,58, 734,45, 737,63, 693,70, 702,49, 708,53, 714,67, 720,62, 726,46, 732,66, 738,50,
    742,63, 745,54, 748,72, 751,58, 754,75, 757,52, 760,66, 763,56, 766,71, 769,60, 772,53, 775,73, 778,57,
    781,64, 784,51, 787,69, 743,76, 752,55, 758,59, 764,73, 770,68, 776,52, 782,72, 788,56,
    792,70, 795,61, 798,79, 801,65, 804,82, 807,59, 810,73, 813,63, 816,78, 819,67, 822,60, 825,80, 828,64,
    831,71, 834,58, 837,76, 793,83, 802,62, 808,66, 814,80, 820,75, 826,59, 832,79, 838,63,
    842,77, 845,68, 848,85, 851,72, 854,88, 857,66, 860,80, 863,70, 866,84, 869,74, 872,67, 875,86, 878,71,
    881,78, 884,65, 887,82, 843,89, 852,69, 858,73, 864,86, 870,81, 876,66, 882,85, 888,70,
    892,83, 895,75, 898,91, 901,79, 904,93, 907,73, 910,86, 913,77, 916,90, 919,81, 922,74, 925,92, 928,78,
    931,84, 934,72, 937,88, 893,94, 902,76, 908,80, 914,92, 920,87, 926,73, 932,91, 938,77,
    942,88, 945,81, 948,95, 951,85, 954,97, 957,80, 960,91, 963,83, 966,94, 969,87, 972,81, 975,96, 978,84,
    981,89, 984,79, 987,93, 943,97, 952,82, 958,86, 964,96, 970,92, 976,80, 982,95, 988,84,
    244,20, 247,28, 251,23, 255,17, 259,29, 263,25, 268,19, 272,27, 275,18, 280,30, 284,22, 287,26, 246,24,
    253,29, 261,19, 274,24, 282,27, 289,18,
    294,21, 297,29, 301,25, 305,18, 309,31, 313,27, 318,21, 322,30, 325,19, 330,32, 334,23, 337,28, 296,26,
    303,31, 311,20, 324,25, 332,28, 339,19,
    344,22, 347,31, 351,26, 355,19, 359,33, 363,28, 368,22, 372,32, 375,20, 380,34, 384,25, 387,30, 346,28,
    353,33, 361,21, 374,27, 382,30, 389,20,
    394,24, 397,33, 401,28, 405,21, 409,35, 413,30, 418,24, 422,34, 425,22, 430,36, 434,27, 437,32, 396,30,
    403,35, 411,23, 424,29, 432,33, 439,22,
    444,26, 447,36, 451,31, 455,23, 459,38, 463,33, 468,26, 472,37, 475,24, 480,39, 484,29, 487,35, 446,32,
    453,38, 461,25, 474,31, 482,36, 489,24,
    494,29, 497,40, 501,34, 505,26, 509,42, 513,36, 518,29, 522,41, 525,27, 530,43, 534,32, 537,38, 496,35,
    503,42, 511,28, 524,34, 532,39, 539,27,
    544,33, 547,45, 551,39, 555,30, 559,47, 563,41, 568,33, 572,46, 575,31, 580,48, 584,37, 587,43, 546,40,
    553,47, 561,32, 574,38, 582,44, 589,31,
    594,38, 597,51, 601,44, 605,35, 609,53, 613,47, 618,38, 622,52, 625,36, 630,54, 634,42, 637,49, 596,45,
    603,53, 611,37, 624,43, 632,50, 639,36,
    644,45, 647,58, 651,51, 655,41, 659,60, 663,54, 668,45, 672,59, 675,42, 680,61, 684,49, 687,56, 646,52,
    653,60, 661,43, 674,50, 682,57, 689,42,
    694,52, 697,65, 701,58, 705,48, 709,67, 713,61, 718,52, 722,66, 725,49, 730,68, 734,56, 737,63, 696,59,
    703,67, 711,50, 724,57, 732,64, 739,49,
    741,58, 745,68, 749,62, 753,73, 757,55, 761,65, 765,71, 769,60, 773,75, 777,63, 781,69, 785,57, 743,72,
    751,66, 759,59, 767,74, 775,67, 783,61, 787,72, 755,64,
    791,65, 795,75, 799,69, 803,80, 807,62, 811,72, 815,78, 819,67, 823,82, 827,70, 831,76, 835,63, 793,79,
    801,73, 809,66, 817,81, 825,74, 833,68, 837,79, 805,71,
    841,72, 845,82, 849,76, 853,87, 857,69, 861,79, 865,85, 869,74, 873,89, 877,77, 881,83, 885,70, 843,86,
    851,80, 859,73, 867,88, 875,81, 883,75, 887,86, 855,78,
    891,78, 895,88, 899,82, 903,93, 907,76, 911,85, 915,91, 919,80, 923,95, 927,83, 931,89, 935,77, 893,92,
    901,86, 909,79, 917,94, 925,87, 933,81, 937,92, 905,84,
    941,85, 945,93, 949,89, 953,97, 957,83, 961,91, 965,95, 969,87, 973,98, 977,90, 981,94, 985,84, 943,96,
    951,92, 959,86, 967,97, 975,93, 983,88, 987,96, 955,90,
]

# x extent of each panel (data units); the third panel's frame also carries the legend area
panel_x_ranges = [(0.16, 13.37), (0.11, 13.5), (0.27, 33.33)]
panel3_data_extent = (0.27, 13.44)
y_range = (-0.166, 1.056)


def expand(strip_x, strip_y, cloud, core):
    xs, ys = [], []
    for sx, col in zip(strip_x, strip_y):
        for v in col:
            xs.append(sx)
            ys.append(v)
    for cx, cy in cloud:
        xs.append(cx)
        ys.append(cy)
    for i in range(0, len(core), 2):
        xs.append(core[i] / 100.0)
        ys.append(core[i + 1] / 100.0)
    return xs, ys


def make_panel(title, xr, width, left, right, show_ylabel, with_xlabel=True):
    p = figure(width=width, height=442, x_range=Range1d(*xr), y_range=Range1d(*y_range),
               output_backend="svg", toolbar_location=None,
               min_border_left=left, min_border_right=right, min_border_top=31, min_border_bottom=56)
    p.title.text = title
    p.title.align = "center"
    p.title.text_font = FONT
    p.title.text_font_size = "22px"
    p.title.text_font_style = "bold"
    p.title.text_color = "black"
    p.title.standoff = 4
    p.outline_line_color = None
    p.background_fill_color = "white"
    p.border_fill_color = "white"
    p.xaxis.ticker = FixedTicker(ticks=x_ticks, minor_ticks=x_minor)
    p.yaxis.ticker = FixedTicker(ticks=y_ticks, minor_ticks=y_minor)
    p.yaxis.formatter = NumeralTickFormatter(format="0.00")
    for ax in p.axis:
        ax.axis_line_color = None
        ax.major_tick_line_color = None
        ax.minor_tick_line_color = None
        ax.major_label_text_font = FONT
        ax.major_label_text_font_size = "18px"
        ax.major_label_text_color = "#333333"
        ax.axis_label_text_font = FONT
        ax.axis_label_text_font_size = "24px"
        ax.axis_label_text_font_style = "normal"
        ax.axis_label_text_color = "black"
        ax.axis_label_standoff = 0
        ax.major_label_standoff = 6
    if with_xlabel:
        p.xaxis.axis_label = x_label
    if show_ylabel:
        p.yaxis.axis_label = y_label
        p.yaxis.axis_label_standoff = -6
    for g in (p.xgrid, p.ygrid):
        g.grid_line_color = "#EBEBEB"
        g.grid_line_width = 1.2
        g.minor_grid_line_color = "#EBEBEB"
        g.minor_grid_line_width = 0.7
    return p


def draw_points(p, one_x, zero_x, cx, cy):
    g1 = p.scatter(one_x, [1.0] * len(one_x), size=6, color=GREEN)
    p.scatter(zero_x, [0.0] * len(zero_x), size=6, color=GREEN)
    pk = p.scatter(cx, cy, size=5.5, fill_color=None, line_color=PINK, line_width=1.1)
    return g1, pk


p1 = make_panel(titles[0], panel_x_ranges[0], 340, 75, 22, True)
cx, cy = expand(full_strip_x, full_strip_y, full_cloud, full_core)
draw_points(p1, acc_full_one, acc_full_zero, cx, cy)
p1.line(glm_full_x, glm_full_eta0001, line_color=DOTC, line_width=2.6, line_dash="1 5", line_cap="round")
p1.line(glm_full_x, glm_full_eta001, line_color=BLUE, line_width=2.6, line_dash="10 5")
p1.line(glm_full_x, glm_full_eta01, line_color=RED, line_width=2.6)

p2 = make_panel(titles[1], panel_x_ranges[1], 315, 50, 21, False)
cx, cy = expand(log_strip_x, log_strip_y, log_cloud, log_core)
draw_points(p2, acc_log_one, acc_log_zero, cx, cy)
p2.line(glm_log_x, glm_log_eta01, line_color=RED, line_width=2.6)

# third panel: its frame continues to the right to hold the legend
p3 = make_panel(titles[2], panel_x_ranges[2], 665, 50, 0, False, with_xlabel=False)
p3.title.align = "left"
p3.title.offset = -5
p3.ygrid.visible = False
x_lo, x_hi = panel3_data_extent
p3.segment(x0=[x_lo] * len(y_ticks), y0=y_ticks, x1=[x_hi] * len(y_ticks), y1=y_ticks,
           line_color="#EBEBEB", line_width=1.2, level="underlay")
p3.segment(x0=[x_lo] * len(y_minor), y0=y_minor, x1=[x_hi] * len(y_minor), y1=y_minor,
           line_color="#EBEBEB", line_width=0.7, level="underlay")
xl = Title(text=x_label, align="left", offset=42, text_font=FONT, text_font_size="24px",
           text_font_style="normal", text_color="black", standoff=0)
p3.add_layout(xl, "below")

cx, cy = expand(scaled_strip_x, scaled_strip_y, scaled_cloud, scaled_core)
r_acc, r_pink = draw_points(p3, acc_scaled_one, acc_scaled_zero, cx, cy)
r_red = p3.line(glm_scaled_x, glm_scaled_eta01, line_color=RED, line_width=2.6)
# legend keys for the two curves only drawn in the first panel (kept outside the visible x range)
r_dot = p3.line([-20, -19], [0.5, 0.5], line_color=DOTC, line_width=2.6, line_dash="1 5", line_cap="round")
r_dash = p3.line([-20, -19], [0.5, 0.5], line_color=BLUE, line_width=2.6, line_dash="10 5")

items = [LegendItem(label=lab, renderers=[r]) for lab, r in
         zip(legend_labels, [r_acc, r_dot, r_dash, r_red, r_pink])]
legend = Legend(items=items, location=(251.5, 93.5))
legend.label_text_font = FONT
legend.label_text_font_size = "19px"
legend.label_text_color = "black"
legend.glyph_width = 17
legend.glyph_height = 20
legend.label_height = 20
legend.label_standoff = 16
legend.spacing = 0
legend.padding = 0
legend.margin = 0
legend.border_line_color = None
legend.background_fill_alpha = 0
p3.add_layout(legend)

layout = row(p1, p2, p3)
open("out.html", "w").write(file_html(layout, INLINE))
